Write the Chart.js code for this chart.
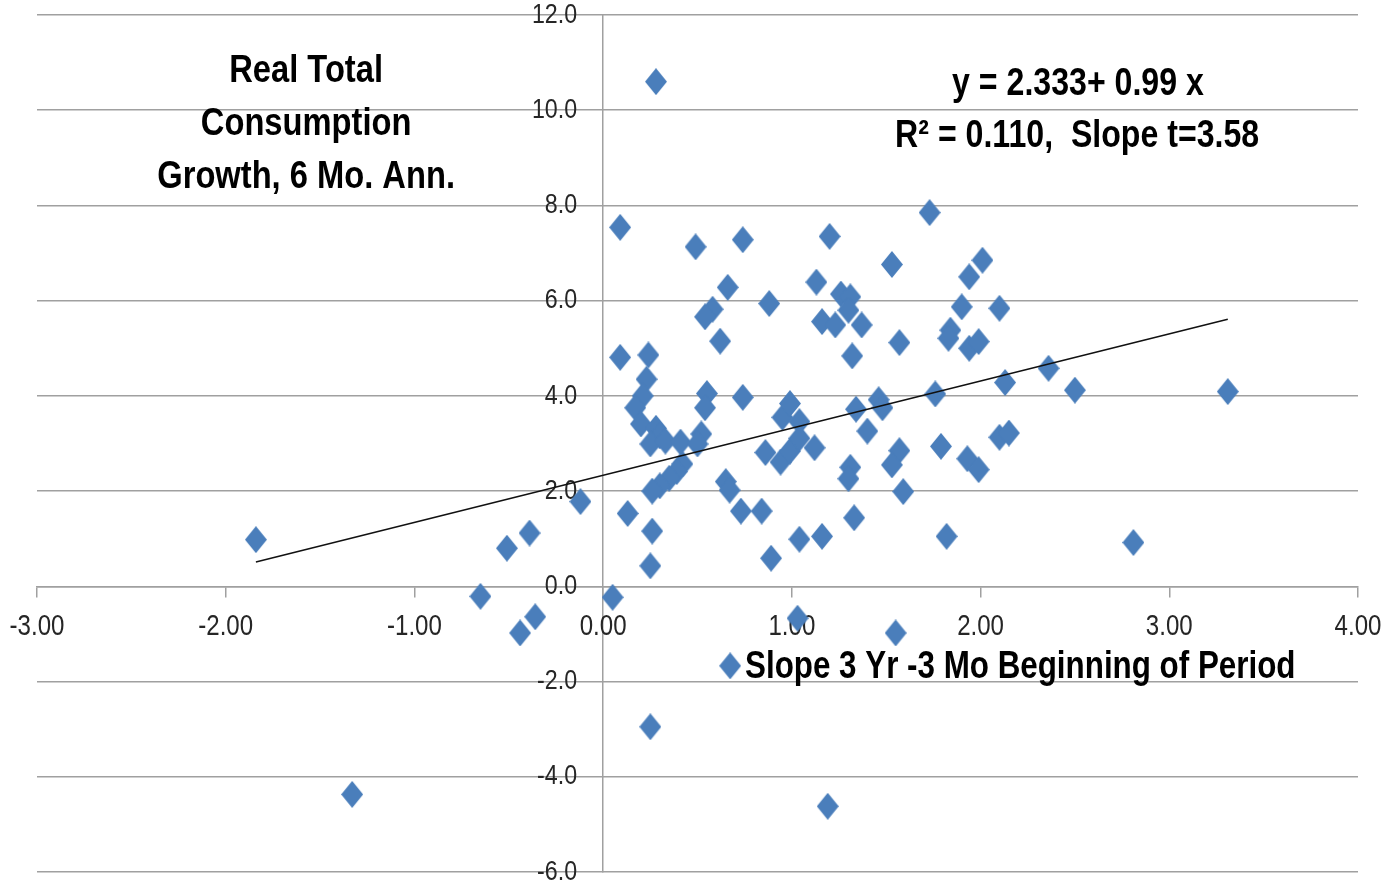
<!DOCTYPE html>
<html>
<head>
<meta charset="utf-8">
<title>Real Total Consumption Growth vs Slope</title>
<script src="https://cdn.jsdelivr.net/npm/chart.js@4.4.1/dist/chart.umd.min.js"></script>
<style>
    html, body { margin: 0; padding: 0; background: #fff; }
    #wrap { width: 1392px; height: 885px; }
</style>
</head>
<body>
<div id="wrap"><canvas id="grafico" width="1392" height="885"></canvas></div>
<script>
// --- Datos ---
// X: pendiente 3 años - 3 meses al inicio del período
const slopeX = [
    -1.84, -1.33, -0.65, -0.51, -0.44, -0.39, -0.36, -0.12, 0.05, 0.09,
     0.09,  0.13,  0.28,  0.24,  0.23,  0.21,  0.17,  0.20, 0.28, 0.30,
     0.25,  0.33,  0.41,  0.52,  0.50,  0.55,  0.54,  0.74, 0.42, 0.39,
     0.35,  0.30,  0.26,  0.65,  0.67,  0.26,  0.25,  0.73, 0.84, 0.86,
     0.94,  0.95,  0.99,  1.04,  0.99,  1.04,  1.12,  0.89, 1.04, 1.16,
     1.34,  1.46,  1.48,  1.40,  1.31,  1.30,  1.33,  1.57, 1.53, 1.59,
     1.76,  1.79,  1.82,  1.93,  1.99,  2.10,  2.15,  2.13, 2.36, 2.50,
     3.31,  2.81,  1.03,  1.55,  0.25,  1.19,  0.49,  0.74, 1.20, 1.73,
     1.53,  2.01,  1.94,  0.66,  1.13,  1.26,  1.31,  1.30, 0.88, 0.58,
     0.54,  1.16,  1.23,  1.37,  1.90,  2.10,  1.84,  1.83, 1.94, 1.99,
     0.62,  1.57,  1.32
];
// Y: crecimiento del consumo real total, 6 meses anualizado
const consumoY = [
     0.98, -4.37, -0.21,  0.80, -0.98,  1.12, -0.64,  1.78, -0.23,  7.54,
     4.81,  1.53, 10.60,  4.86,  4.35,  4.00,  3.75,  3.41,  3.32,  3.16,
     2.99,  3.05,  3.03,  3.20,  2.99,  4.05,  3.75,  3.97,  2.57,  2.41,
     2.27,  2.11,  2.00,  2.20,  2.02,  1.16,  0.43,  1.58,  1.58,  2.81,
     2.61,  3.55,  3.84,  3.46,  2.84,  3.11,  2.91,  0.59,  0.99,  1.05,
     3.72,  3.92,  3.75,  3.26,  2.50,  2.26,  1.44,  2.85,  2.55,  1.99,
     4.04,  2.94,  1.05,  2.68,  2.45,  3.13,  3.22,  4.28,  4.58,  4.12,
     4.09,  0.92, -0.67, -0.98, -2.95, -4.62,  7.13,  7.28,  7.35,  7.85,
     6.76,  6.85,  6.50,  6.28,  6.39,  6.14,  6.08,  5.80,  5.94,  5.82,
     5.66,  5.56,  5.49,  5.49,  5.87,  5.84,  5.38,  5.21,  5.00,  5.14,
     5.15,  5.12,  4.84
];

// Recta de tendencia informada en el gráfico
const tendIntercepto = 2.333;
const tendPendiente  = 0.99;

// Ejes
const ejeX = { min: -3, max: 4, paso: 1 };
const ejeY = { min: -6, max: 12, paso: 2 };

// Textos
const tituloLineas  = ['Real Total', 'Consumption', 'Growth, 6 Mo. Ann.'];
const ecuacionTexto = 'y = 2.333+ 0.99 x';
const r2Texto       = 'R\u00B2 = 0.110,  Slope t=3.58';
const serieNombre   = 'Slope 3 Yr -3 Mo Beginning of Period';

const AZUL   = '#4a7ebb';
const GRIS   = '#a0a0a0';
const FUENTE = '"Liberation Sans", Arial, sans-serif';
const ANGOSTO = 0.83;   // la fuente original es tipo Calibri, más angosta

// Marcador rombo (un poco más alto que ancho, como en el original)
function crearRombo(w, h, color) {
    const c = document.createElement('canvas');
    c.width = w; c.height = h;
    const g = c.getContext('2d');
    g.fillStyle = color;
    g.beginPath();
    g.moveTo(w / 2, 0);
    g.lineTo(w, h / 2);
    g.lineTo(w / 2, h);
    g.lineTo(0, h / 2);
    g.closePath();
    g.fill();
    return c;
}
const rombo = crearRombo(22, 27, AZUL);

const puntos = slopeX.map((x, i) => ({ x, y: consumoY[i] }));
const xMin = Math.min(...slopeX);
const xMax = Math.max(...slopeX);
const tendencia = [
    { x: xMin, y: tendIntercepto + tendPendiente * xMin },
    { x: xMax, y: tendIntercepto + tendPendiente * xMax }
];

// Texto comprimido horizontalmente
function textoAngosto(ctx, t, x, y, k) {
    ctx.save();
    ctx.translate(x, y);
    ctx.scale(k || ANGOSTO, 1);
    ctx.fillText(t, 0, 0);
    ctx.restore();
}

// Etiquetas de los ejes (debajo de los puntos, como en Excel)
const etiquetasPlugin = {
    id: 'etiquetas',
    beforeDatasetsDraw(chart) {
        const ctx = chart.ctx;
        const sx = chart.scales.x, sy = chart.scales.y;
        const x0 = sx.getPixelForValue(0), y0 = sy.getPixelForValue(0);
        ctx.save();
        ctx.fillStyle = '#262626';
        ctx.font = '29px ' + FUENTE;
        ctx.textBaseline = 'middle';
        ctx.textAlign = 'center';
        sx.ticks.forEach(t => {
            textoAngosto(ctx, t.value.toFixed(2), sx.getPixelForValue(t.value), y0 + 41);
        });
        ctx.font = '28px ' + FUENTE;
        ctx.textAlign = 'right';
        sy.ticks.forEach(t => {
            textoAngosto(ctx, t.value.toFixed(1), x0 - 26, sy.getPixelForValue(t.value));
        });
        ctx.restore();
    }
};

// Textos anclados en unidades de los ejes
const textosPlugin = {
    id: 'textos',
    afterDraw(chart) {
        const ctx = chart.ctx;
        const sx = chart.scales.x, sy = chart.scales.y;
        ctx.save();
        ctx.fillStyle = '#000';
        ctx.font = 'bold 38px ' + FUENTE;
        ctx.textBaseline = 'alphabetic';

        // Título a la izquierda
        ctx.textAlign = 'center';
        const baseT = [10.59, 9.48, 8.37];
        tituloLineas.forEach((t, i) => {
            textoAngosto(ctx, t, sx.getPixelForValue(-1.574), sy.getPixelForValue(baseT[i]), 0.86);
        });

        // Ecuación y R²
        ctx.textAlign = 'left';
        textoAngosto(ctx, ecuacionTexto, sx.getPixelForValue(1.849), sy.getPixelForValue(10.32), 0.845);
        textoAngosto(ctx, r2Texto, sx.getPixelForValue(1.547), sy.getPixelForValue(9.23), 0.845);

        // Leyenda dentro del área
        const lx = sx.getPixelForValue(0.673), ly = sy.getPixelForValue(-1.67);
        ctx.drawImage(rombo, lx - rombo.width / 2, ly - rombo.height / 2);
        textoAngosto(ctx, serieNombre, sx.getPixelForValue(0.752), sy.getPixelForValue(-1.925), 0.825);
        ctx.restore();
    }
};

new Chart(document.getElementById('grafico'), {
    type: 'scatter',
    data: {
        datasets: [
            {
                label: 'Tendencia',
                data: tendencia,
                type: 'line',
                showLine: true,
                borderColor: '#111',
                borderWidth: 1.5,
                pointRadius: 0,
                fill: false,
                order: 0
            },
            {
                label: serieNombre,
                data: puntos,
                pointStyle: rombo,
                pointRadius: 12,
                backgroundColor: AZUL,
                borderColor: AZUL,
                order: 1
            }
        ]
    },
    options: {
        responsive: false,
        animation: false,
        layout: { padding: { left: 37, right: 34, top: 15, bottom: 6 } },
        plugins: {
            legend: { display: false },
            tooltip: { enabled: false }
        },
        scales: {
            x: {
                type: 'linear',
                position: { y: 0 },
                min: ejeX.min, max: ejeX.max,
                ticks: { stepSize: ejeX.paso, display: false },
                grid: { drawOnChartArea: false, drawTicks: true, tickLength: 10, color: GRIS, lineWidth: 1.5 },
                border: { color: GRIS, width: 1.5 }
            },
            y: {
                type: 'linear',
                position: { x: 0 },
                min: ejeY.min, max: ejeY.max,
                ticks: { stepSize: ejeY.paso, display: false },
                grid: { drawTicks: false, color: GRIS, lineWidth: 1.5 },
                border: { color: GRIS, width: 1.5 }
            }
        }
    },
    plugins: [etiquetasPlugin, textosPlugin]
});
</script>
</body>
</html>
